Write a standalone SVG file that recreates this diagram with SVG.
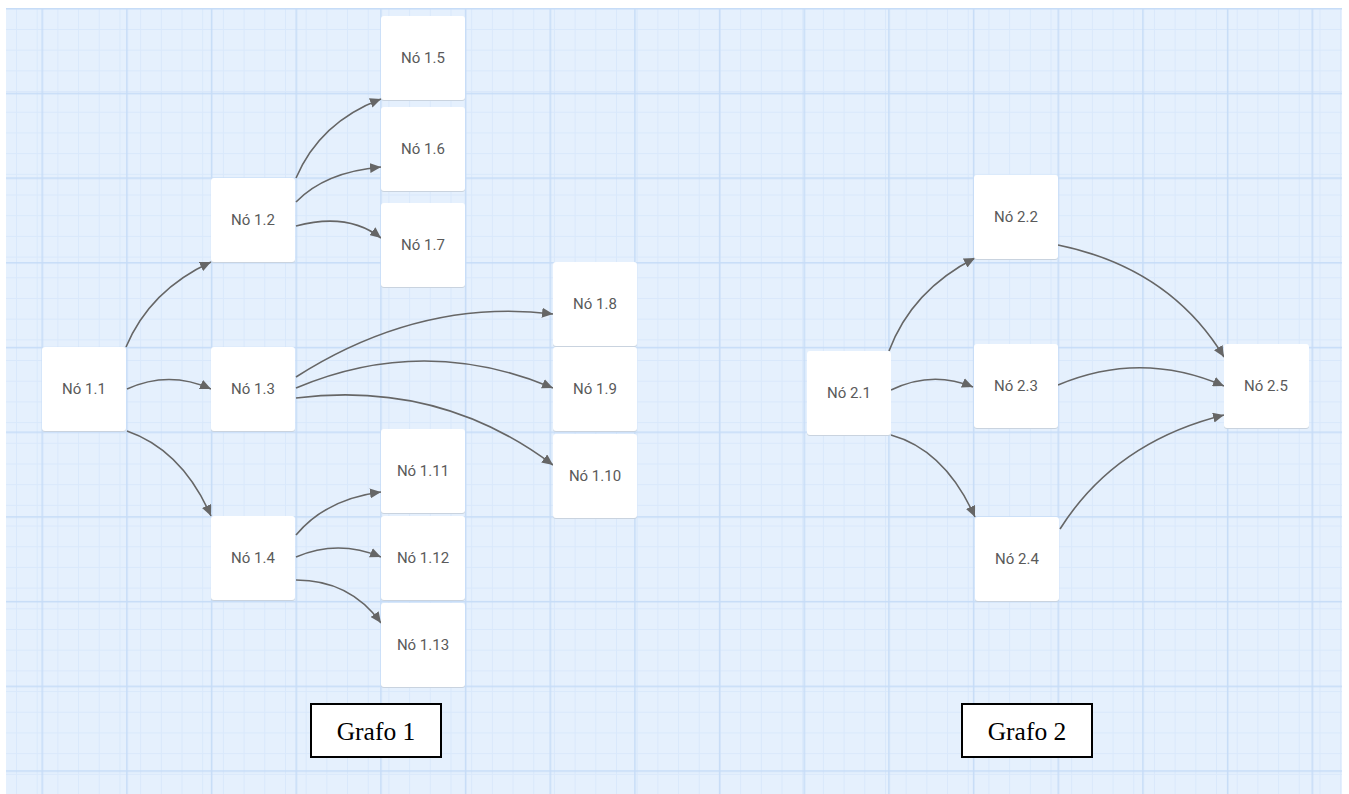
<svg xmlns="http://www.w3.org/2000/svg" width="1349" height="794" viewBox="0 0 1349 794">
  <defs>
    <style>
      .node rect.box { fill: #ffffff; }
      .node rect.shadow { fill: #c9d3df; }
      .node text { font-family: Roboto, "Noto Sans", sans-serif; font-size: 15px; fill: #5a5a5a; text-anchor: middle; }
      .edge { fill: none; stroke: #666666; stroke-width: 1.6; marker-end: url(#arrow); }
      .caption rect { fill: #ffffff; stroke: #000000; stroke-width: 2; }
      .caption text { font-family: "Liberation Serif", "Times New Roman", serif; font-size: 25.5px; fill: #000000; text-anchor: middle; }
    </style>
    <pattern id="minorGrid" patternUnits="userSpaceOnUse" x="16" y="8.3" width="20.69" height="20.69">
      <path d="M0.5 0V20.69M0 0.5H20.69" stroke="#d9e8fb" stroke-width="1" fill="none"/>
    </pattern>
    <pattern id="majorGrid" patternUnits="userSpaceOnUse" x="41.5" y="8" width="84.67" height="84.7">
      <path d="M0.75 0V84.7M0 0.75H84.67" stroke="#c6dcf7" stroke-width="1.5" fill="none"/>
    </pattern>
    <marker id="arrow" markerUnits="userSpaceOnUse" markerWidth="12" markerHeight="10" refX="11" refY="5" orient="auto">
      <path d="M0 0L11 5L0 10Z" fill="#666666"/>
    </marker>
  </defs>

  <!-- canvas background with grid -->
  <rect x="0" y="0" width="1349" height="794" fill="#ffffff"/>
  <rect x="6" y="8" width="1336" height="786" fill="#e5f0fd"/>
  <rect x="6" y="8" width="1336" height="786" fill="url(#minorGrid)"/>
  <rect x="6" y="8" width="1336" height="786" fill="url(#majorGrid)"/>

  <!-- connectors -->
  <g id="connectors">
    <path class="edge" d="M126 347Q150 290 211 262"/>
    <path class="edge" d="M127 389Q169 370 211 389"/>
    <path class="edge" d="M127 431Q182 450 211 516"/>
    <path class="edge" d="M296 178Q320 122 381 99"/>
    <path class="edge" d="M296 202Q325 172 381 167"/>
    <path class="edge" d="M296 226Q348 212 381 238"/>
    <path class="edge" d="M296 377Q420 298 553 314"/>
    <path class="edge" d="M296 388Q424 334 553 388"/>
    <path class="edge" d="M296 398Q440 380 553 465"/>
    <path class="edge" d="M296 535Q326 499 381 492"/>
    <path class="edge" d="M296 557Q338 539 381 557"/>
    <path class="edge" d="M296 580Q350 580 381 623"/>
    <path class="edge" d="M889 351Q912 290 975 258"/>
    <path class="edge" d="M891 390Q932 370 973 387"/>
    <path class="edge" d="M891 435Q945 450 975 517"/>
    <path class="edge" d="M1058 245Q1170 268 1224 357"/>
    <path class="edge" d="M1058 385Q1141 350 1224 386"/>
    <path class="edge" d="M1060 529Q1115 442 1224 415"/>
  </g>

  <!-- Grafo 1 -->
  <g id="n1_1" class="node"><rect class="shadow" x="42" y="348" width="84" height="84" rx="3"/><rect class="box" x="42" y="347" width="84" height="84" rx="3"/><text x="84" y="394">Nó 1.1</text></g>
  <g id="n1_2" class="node"><rect class="shadow" x="211" y="179" width="84" height="84" rx="3"/><rect class="box" x="211" y="178" width="84" height="84" rx="3"/><text x="253" y="225">Nó 1.2</text></g>
  <g id="n1_3" class="node"><rect class="shadow" x="211" y="348" width="84" height="84" rx="3"/><rect class="box" x="211" y="347" width="84" height="84" rx="3"/><text x="253" y="394">Nó 1.3</text></g>
  <g id="n1_4" class="node"><rect class="shadow" x="211" y="517" width="84" height="84" rx="3"/><rect class="box" x="211" y="516" width="84" height="84" rx="3"/><text x="253" y="563">Nó 1.4</text></g>
  <g id="n1_5" class="node"><rect class="shadow" x="381" y="17" width="84" height="84" rx="3"/><rect class="box" x="381" y="16" width="84" height="84" rx="3"/><text x="423" y="63">Nó 1.5</text></g>
  <g id="n1_6" class="node"><rect class="shadow" x="381" y="108" width="84" height="84" rx="3"/><rect class="box" x="381" y="107" width="84" height="84" rx="3"/><text x="423" y="154">Nó 1.6</text></g>
  <g id="n1_7" class="node"><rect class="shadow" x="381" y="204" width="84" height="84" rx="3"/><rect class="box" x="381" y="203" width="84" height="84" rx="3"/><text x="423" y="250">Nó 1.7</text></g>
  <g id="n1_8" class="node"><rect class="shadow" x="553" y="263" width="84" height="84" rx="3"/><rect class="box" x="553" y="262" width="84" height="84" rx="3"/><text x="595" y="309">Nó 1.8</text></g>
  <g id="n1_9" class="node"><rect class="shadow" x="553" y="348" width="84" height="84" rx="3"/><rect class="box" x="553" y="347" width="84" height="84" rx="3"/><text x="595" y="394">Nó 1.9</text></g>
  <g id="n1_10" class="node"><rect class="shadow" x="553" y="435" width="84" height="84" rx="3"/><rect class="box" x="553" y="434" width="84" height="84" rx="3"/><text x="595" y="481">Nó 1.10</text></g>
  <g id="n1_11" class="node"><rect class="shadow" x="381" y="430" width="84" height="84" rx="3"/><rect class="box" x="381" y="429" width="84" height="84" rx="3"/><text x="423" y="476">Nó 1.11</text></g>
  <g id="n1_12" class="node"><rect class="shadow" x="381" y="517" width="84" height="84" rx="3"/><rect class="box" x="381" y="516" width="84" height="84" rx="3"/><text x="423" y="563">Nó 1.12</text></g>
  <g id="n1_13" class="node"><rect class="shadow" x="381" y="604" width="84" height="84" rx="3"/><rect class="box" x="381" y="603" width="84" height="84" rx="3"/><text x="423" y="650">Nó 1.13</text></g>

  <!-- Grafo 2 -->
  <g id="n2_1" class="node"><rect class="shadow" x="807" y="352" width="84" height="84" rx="3"/><rect class="box" x="807" y="351" width="84" height="84" rx="3"/><text x="849" y="398">Nó 2.1</text></g>
  <g id="n2_2" class="node"><rect class="shadow" x="974" y="176" width="84" height="84" rx="3"/><rect class="box" x="974" y="175" width="84" height="84" rx="3"/><text x="1016" y="222">Nó 2.2</text></g>
  <g id="n2_3" class="node"><rect class="shadow" x="974" y="345" width="84" height="84" rx="3"/><rect class="box" x="974" y="344" width="84" height="84" rx="3"/><text x="1016" y="391">Nó 2.3</text></g>
  <g id="n2_4" class="node"><rect class="shadow" x="975" y="518" width="84" height="84" rx="3"/><rect class="box" x="975" y="517" width="84" height="84" rx="3"/><text x="1017" y="564">Nó 2.4</text></g>
  <g id="n2_5" class="node"><rect class="shadow" x="1224" y="345" width="85" height="84" rx="3"/><rect class="box" x="1224" y="344" width="85" height="84" rx="3"/><text x="1266" y="391">Nó 2.5</text></g>

  <!-- captions -->
  <g id="caption1" class="caption"><rect x="311" y="704" width="130" height="53"/><text x="376" y="740">Grafo 1</text></g>
  <g id="caption2" class="caption"><rect x="962" y="704" width="130" height="53"/><text x="1027" y="740">Grafo 2</text></g>
</svg>
